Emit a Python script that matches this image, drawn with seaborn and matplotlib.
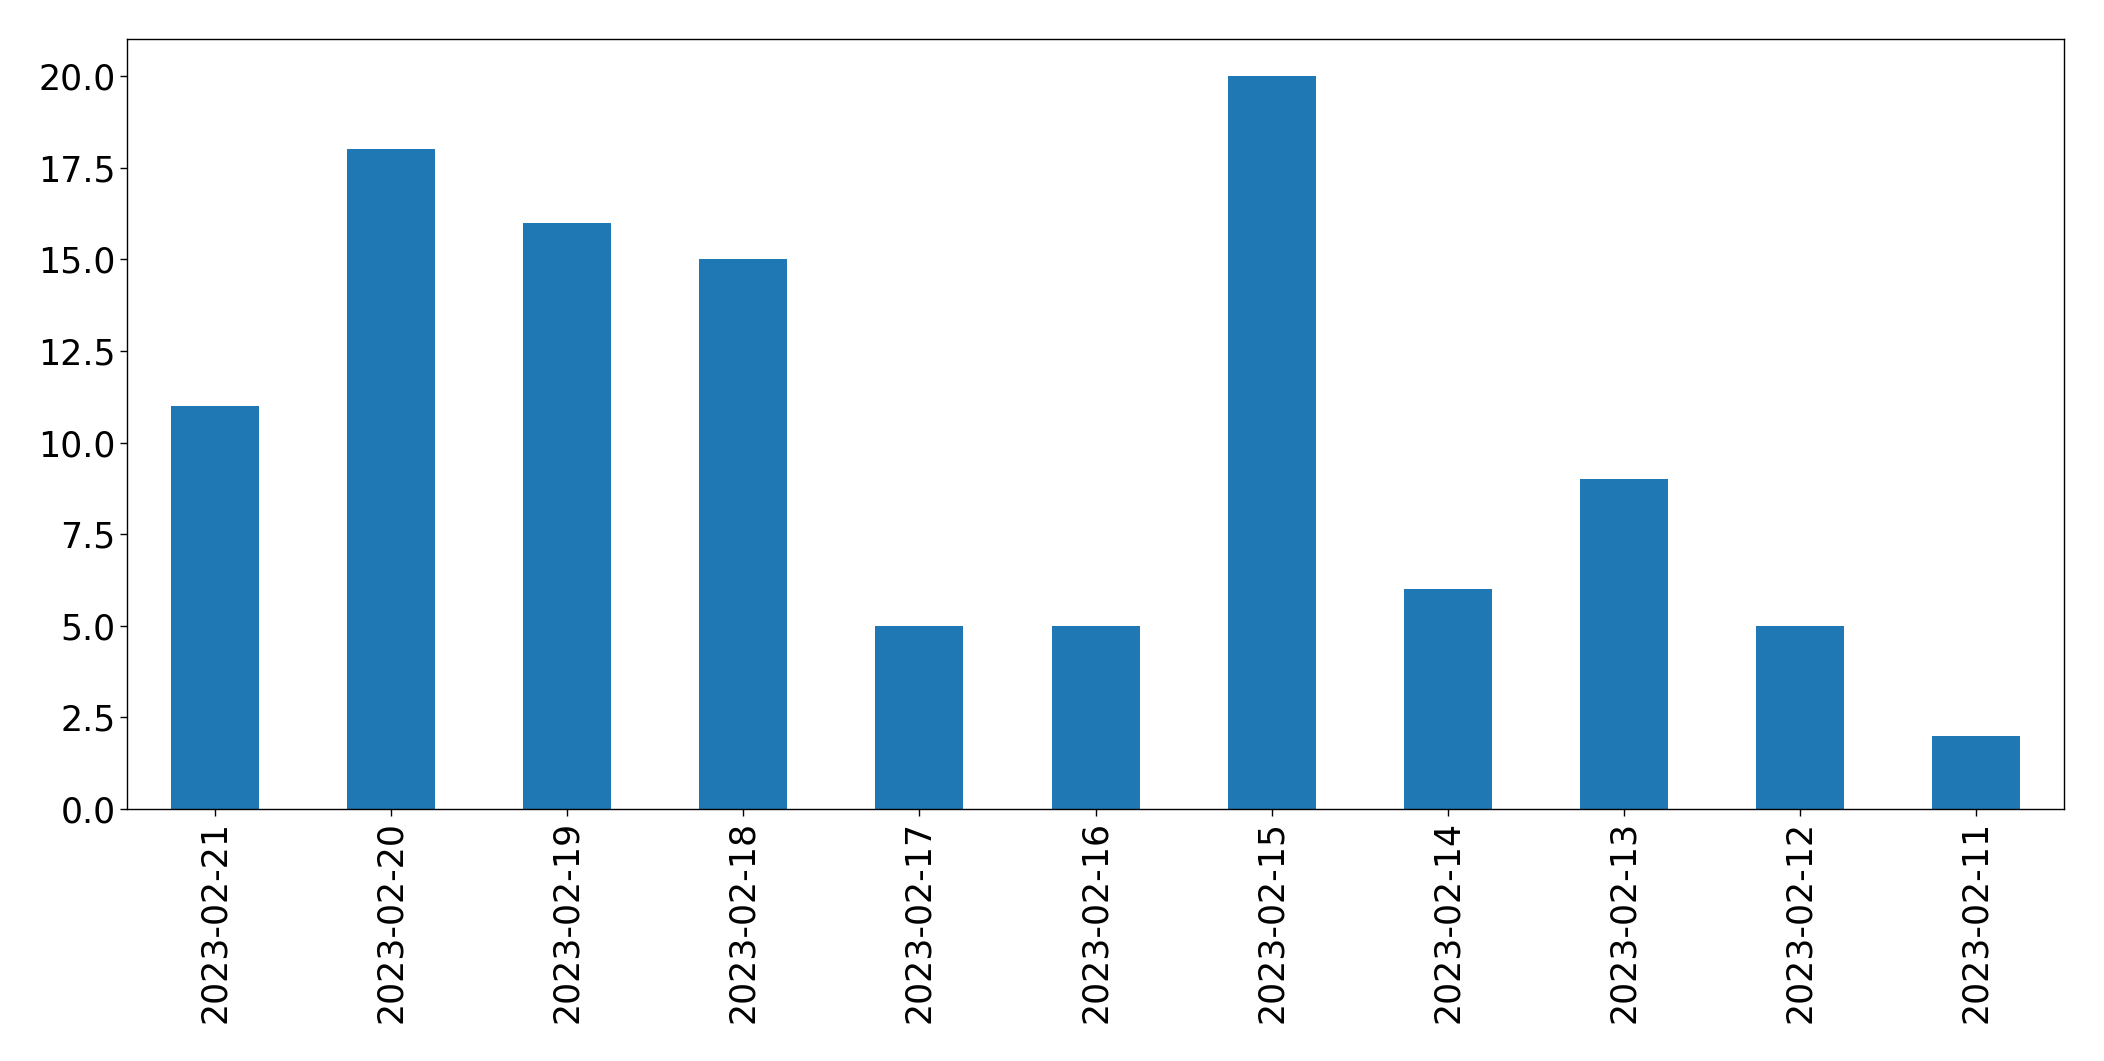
import matplotlib
matplotlib.use("Agg")
import matplotlib.pyplot as plt
import seaborn as sns
import pandas as pd

dates = ["2023-02-21", "2023-02-20", "2023-02-19", "2023-02-18", "2023-02-17",
         "2023-02-16", "2023-02-15", "2023-02-14", "2023-02-13", "2023-02-12",
         "2023-02-11"]
counts = [11, 18, 16, 15, 5, 5, 20, 6, 9, 5, 2]

sns.set_theme(style="white")
plt.rcParams['font.family'] = ['DejaVu Sans']

df = pd.DataFrame({"date": dates, "count": counts})

fig = plt.figure(figsize=(21.04, 10.61), dpi=100)
ax = fig.add_axes([0.0604, 0.2375, 0.9206, 0.7253])
sns.barplot(data=df, x="date", y="count", order=dates, color="#1f77b4",
            saturation=1, width=0.5, ax=ax, edgecolor="none")
ax.set_xlim(-0.5, len(dates) - 0.5)
ax.set_ylim(0, 21)
ax.set_yticks([0, 2.5, 5, 7.5, 10, 12.5, 15, 17.5, 20])
ax.set_yticklabels([f"{v:.1f}" for v in [0, 2.5, 5, 7.5, 10, 12.5, 15, 17.5, 20]])
ax.set_xlabel("")
ax.set_ylabel("")
ax.tick_params(axis="both", labelsize=25, length=4.9, width=1, color="black",
               left=True, bottom=True, labelcolor="black")
plt.setp(ax.get_xticklabels(), rotation=90)
for s in ax.spines.values():
    s.set_color("black")
    s.set_linewidth(1)
    s.set_visible(True)
fig.savefig("out.png", dpi=100)
